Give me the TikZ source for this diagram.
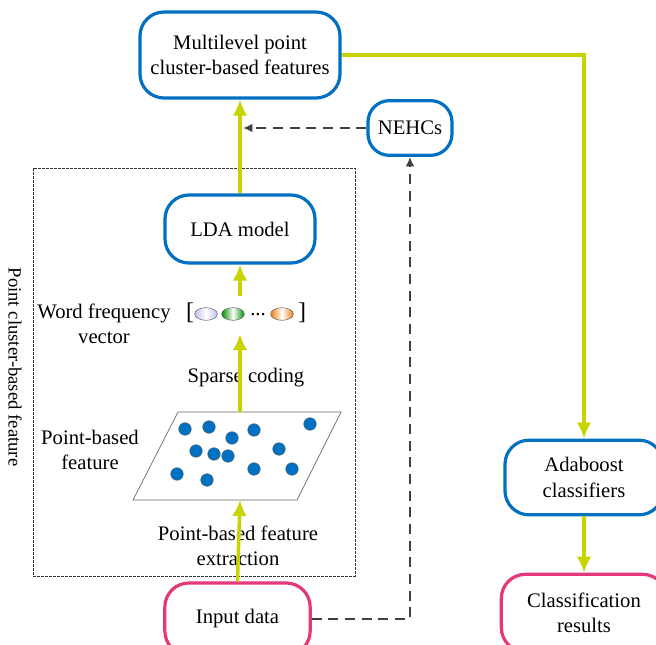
\documentclass[tikz,border=0pt]{standalone}
\usepackage{fontspec}
\setmainfont{Liberation Serif}
\usepackage{tikz}
\usetikzlibrary{positioning}
\usetikzlibrary{calc}
\usetikzlibrary{shapes.geometric}
\usetikzlibrary{arrows.meta}

\definecolor{boxblue}{RGB}{0,112,192}
\definecolor{boxpink}{RGB}{228,56,122}
\definecolor{flowyellow}{RGB}{200,212,0}
\definecolor{dashgray}{RGB}{64,64,64}

\tikzset{
    blockbox/.style={draw=boxblue, line width=2.4pt, rounded corners=18pt,
        align=center, fill=white},
    termbox/.style={draw=boxpink, line width=2.4pt, rounded corners=18pt,
        align=center, fill=white},
    flow/.style={-{Latex[length=12pt, width=11pt]}, flowyellow, line width=2.6pt},
    side/.style={-{Latex[length=7pt, width=6.5pt]}, dashgray, line width=1.6pt,
        dash pattern=on 7.5pt off 5pt},
    dot/.style={circle, fill=boxblue, draw=black!60, line width=0.3pt,
        inner sep=0pt, minimum size=9.5pt},
    word/.style={ellipse, minimum width=17pt, minimum height=9.5pt, inner sep=0pt,
        draw=black!60, line width=0.4pt},
}

\begin{document}
\begin{tikzpicture}[x=0.75pt, y=-0.75pt, font=\fontsize{15.5}{19}\selectfont]
    \clip (0,0) rectangle (656,645);
    \fill[white] (0,0) rectangle (656,645);

    % dashed frame of the point cluster-based feature
    \draw[black!80, line width=0.5pt, dash pattern=on 2pt off 1pt]
        (33,168) rectangle (355,576);
    \node[rotate=-90, font=\fontsize{14}{17}\selectfont] (frametitle) at (15,367)
        {Point cluster-based feature};

    \node[blockbox, minimum width=150pt, minimum height=64.5pt] (multi) at (240,55)
        {Multilevel point\\cluster-based features};
    \node[blockbox, minimum width=63pt, minimum height=41pt, rounded corners=16pt,
        inner sep=2pt] (nehc) at (410,128) {NEHCs};
    \node[blockbox, minimum width=112.5pt, minimum height=51pt] (lda) at (240,229)
        {LDA model};
    \node[termbox, minimum width=109pt, minimum height=54pt] (input) at (237.5,619)
        {Input data};
    \node[blockbox, minimum width=118.5pt, minimum height=56pt] (ada) at (584,477.5)
        {Adaboost\\classifiers};
    \node[termbox, minimum width=124pt, minimum height=58pt] (cls) at (584,613)
        {Classification\\results};

    % word frequency vector
    \node[align=center] (wfv) at (104,324) {Word frequency\\vector};
    \node (lbr) at (190,313) {\fontsize{18}{18}\selectfont[};
    \node[word, left color=black!30!blue!25, right color=black!30!blue!25,
        middle color=white] (w1) at (206,314) {};
    \node[word, left color=green!55!black, right color=green!55!black,
        middle color=white] (w2) at (233,314) {};
    \node (wdots) at (258,315) {...};
    \node[word, left color=orange!75!brown, right color=orange!75!brown,
        middle color=white] (w3) at (282,314) {};
    \node (rbr) at (302,313) {\fontsize{18}{18}\selectfont]};
    \coordinate (vectop) at (240,296);
    \coordinate (vecbot) at (240,334);

    \node (sparse) at (246,378) {Sparse coding};

    % point-based feature plane
    \draw[black!60, line width=0.5pt, fill=white]
        (178,412) -- (341,412) -- (297,500) -- (133,500) -- cycle;
    \coordinate (planetop) at (240,412);
    \coordinate (planebot) at (240,500);
    \foreach \px/\py in {185/429, 209/427, 232/438, 254/430, 310/424,
                         196/451, 214/454, 228/456, 279/449,
                         177/474, 207/480, 254/469, 292/469}
        \node[dot] at (\px,\py) {};
    \node[align=center] (pbf) at (90,450) {Point-based\\feature};
    \node[align=center] (pbfe) at (238,546) {Point-based feature\\extraction};

    % main flow
    \draw[flow] (input.north) -- (planebot);
    \draw[flow] (planetop) -- (vecbot);
    \draw[flow] (vectop) -- (lda.south);
    \draw[flow] (lda.north) -- (multi.south);
    \draw[flow] (multi.east) -| (ada.north);
    \draw[flow] (ada.south) -- (cls.north);

    % side branch through the NEHCs
    \coordinate (mergept) at (243,128);
    \draw[side] (input.east) -| (nehc.south);
    \draw[side] (nehc.west) -- (mergept);
\end{tikzpicture}
\end{document}
